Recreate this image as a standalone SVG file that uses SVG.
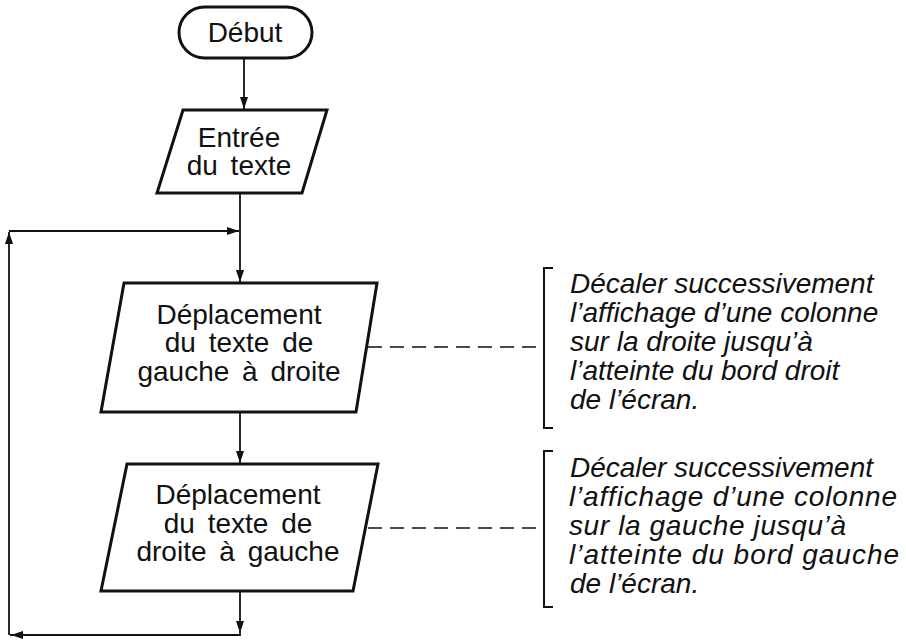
<svg xmlns="http://www.w3.org/2000/svg" width="906" height="640" viewBox="0 0 906 640">
<style>
.box{fill:#fff;stroke:#111;stroke-width:3;stroke-linejoin:miter}
.lbl{font-family:"Liberation Sans",Arial,sans-serif;font-size:28px;fill:#111;text-anchor:middle;word-spacing:5px}
.note{font-family:"Liberation Sans",Arial,sans-serif;font-size:28px;font-style:italic;fill:#111}
.con{fill:none;stroke:#111;stroke-width:1.8}
.dash{fill:none;stroke:#111;stroke-width:1.6;stroke-dasharray:14 8}
.brk{fill:none;stroke:#111;stroke-width:2}
</style>
<defs>
<marker id="ah" viewBox="0 0 12 8" refX="12" refY="4" markerWidth="12" markerHeight="8" markerUnits="userSpaceOnUse" orient="auto">
<path d="M0,0 L12,4 L0,8 z" fill="#111"/>
</marker>
</defs>
<rect width="906" height="640" fill="#fff"/>
<g id="connectors">
<line class="con" x1="244" y1="58" x2="244" y2="109" marker-end="url(#ah)"/>
<line class="con" x1="240" y1="193" x2="240" y2="282" marker-end="url(#ah)"/>
<line class="con" x1="240" y1="412" x2="240" y2="463" marker-end="url(#ah)"/>
<line class="con" x1="240" y1="591" x2="240" y2="633" marker-end="url(#ah)"/>
<polyline class="con" points="240,633 240,635 10,635"/>
<line class="con" x1="240" y1="635" x2="11" y2="635" marker-end="url(#ah)"/>
<line class="con" x1="9" y1="635" x2="9" y2="232" marker-end="url(#ah)"/>
<line class="con" x1="9" y1="231" x2="239" y2="231" marker-end="url(#ah)"/>
<line class="dash" x1="368" y1="347" x2="543" y2="347"/>
<line class="dash" x1="368" y1="528" x2="543" y2="528"/>
</g>
<g id="debut">
<rect class="box" x="179" y="7" width="133" height="51" rx="25.5" ry="25.5"/>
<text class="lbl" x="245" y="42">Début</text>
</g>
<g id="entree">
<polygon class="box" points="183,110 327,110 302,193 157,193"/>
<text class="lbl" x="239" y="147">Entrée</text>
<text class="lbl" x="239" y="175">du texte</text>
</g>
<g id="dep1">
<polygon class="box" points="124,283 377,283 356,412 101,412"/>
<text class="lbl" x="239" y="324">Déplacement</text>
<text class="lbl" x="239" y="352">du texte de</text>
<text class="lbl" x="239" y="381">gauche à droite</text>
</g>
<g id="dep2">
<polygon class="box" points="127,464 378,464 353,591 101,591"/>
<text class="lbl" x="238" y="504">Déplacement</text>
<text class="lbl" x="238" y="533">du texte de</text>
<text class="lbl" x="238" y="561">droite à gauche</text>
</g>
<g id="note1">
<path class="brk" d="M553,268 H544 V428 H553"/>
<text class="note" x="570" y="293">Décaler successivement</text>
<text class="note" x="570" y="322">l’affichage d’une colonne</text>
<text class="note" x="570" y="351">sur la droite jusqu’à</text>
<text class="note" x="570" y="380">l’atteinte du bord droit</text>
<text class="note" x="570" y="409">de l’écran.</text>
</g>
<g id="note2">
<path class="brk" d="M553,451 H544 V607 H553"/>
<text class="note" x="570" y="477" textLength="303" lengthAdjust="spacing">Décaler successivement</text>
<text class="note" x="569" y="506" textLength="328" lengthAdjust="spacing">l’affichage d’une colonne</text>
<text class="note" x="569" y="535" textLength="277" lengthAdjust="spacing">sur la gauche jusqu’à</text>
<text class="note" x="569" y="564" textLength="330" lengthAdjust="spacing">l’atteinte du bord gauche</text>
<text class="note" x="570" y="593">de l’écran.</text>
</g>
</svg>
